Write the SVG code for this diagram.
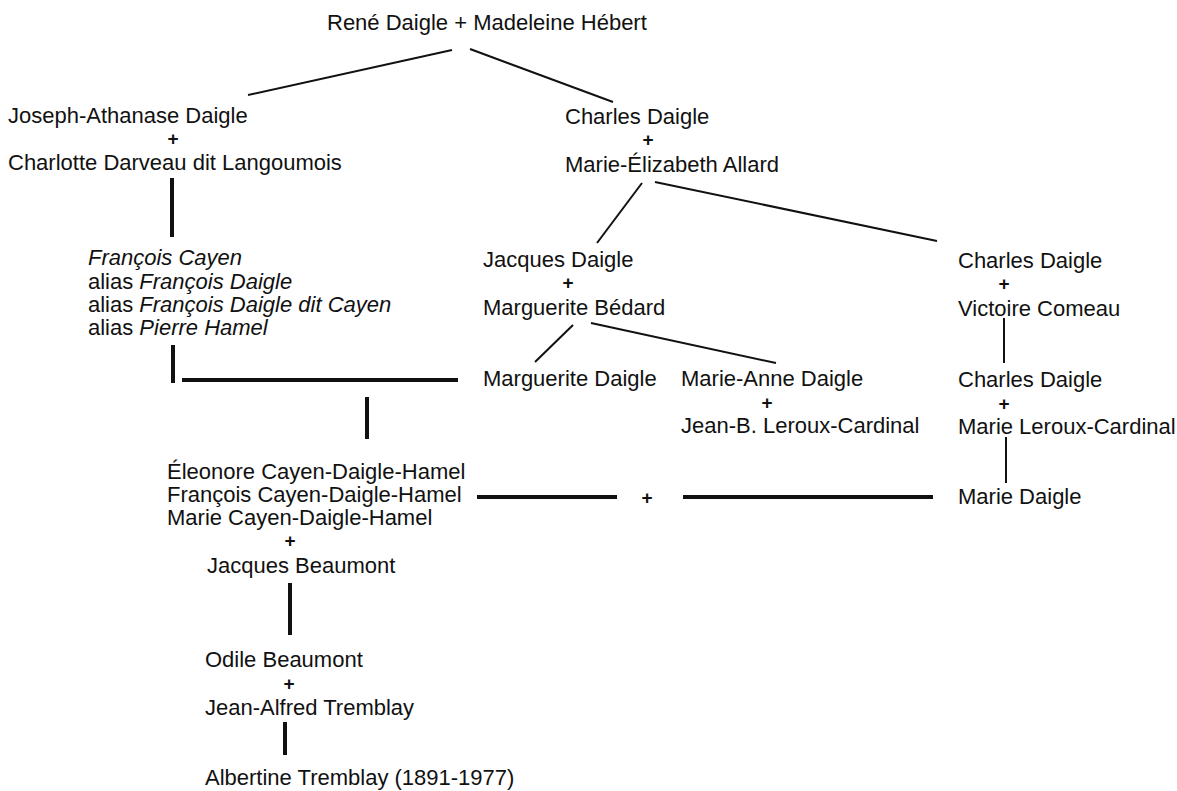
<svg xmlns="http://www.w3.org/2000/svg" width="1177" height="791" viewBox="0 0 1177 791">
<style>
text{font-family:"Liberation Sans",Arial,sans-serif;font-size:22px;fill:#111}
.m{text-anchor:middle}
.p{text-anchor:middle;font-size:19px;font-weight:bold}
.i{font-style:italic}
.thin{stroke:#111;stroke-width:2;fill:none}
.thick{stroke:#111;stroke-width:4;fill:none}
</style>
<rect width="1177" height="791" fill="#fff"/>
<g id="connectors">
<line class="thin" x1="452" y1="50" x2="248" y2="95"/>
<line class="thin" x1="470" y1="49" x2="613" y2="102"/>
<line class="thin" x1="642" y1="183" x2="597" y2="243"/>
<line class="thin" x1="655" y1="182" x2="937" y2="241"/>
<line class="thin" x1="573" y1="325" x2="535" y2="362"/>
<line class="thin" x1="591" y1="323" x2="776" y2="363"/>
<line class="thin" x1="1004" y1="318" x2="1004" y2="363"/>
<line class="thin" x1="1006" y1="437" x2="1006" y2="483"/>
<line class="thick" x1="172" y1="178" x2="172" y2="237"/>
<line class="thick" x1="173" y1="345" x2="173" y2="383"/>
<line class="thick" x1="182" y1="380" x2="458" y2="380"/>
<line class="thick" x1="367" y1="397" x2="367" y2="439"/>
<line class="thick" x1="477" y1="497" x2="617" y2="497"/>
<line class="thick" x1="683" y1="497" x2="933" y2="497"/>
<line class="thick" x1="290" y1="583" x2="290" y2="635"/>
<line class="thick" x1="285" y1="722" x2="285" y2="755"/>
</g>
<g id="n-rene"><text x="327" y="30">René Daigle + Madeleine Hébert</text></g>
<g id="n-joseph">
<text x="8" y="123">Joseph-Athanase Daigle</text>
<text class="p" x="173" y="145">+</text>
<text x="8" y="170">Charlotte Darveau dit Langoumois</text>
</g>
<g id="n-charles1">
<text x="565" y="124">Charles Daigle</text>
<text class="p" x="648" y="146">+</text>
<text x="565" y="172">Marie-Élizabeth Allard</text>
</g>
<g id="n-francois">
<text x="88" y="265" class="i">François Cayen</text>
<text x="88" y="289">alias <tspan class="i">François Daigle</tspan></text>
<text x="88" y="312">alias <tspan class="i">François Daigle dit Cayen</tspan></text>
<text x="88" y="335">alias <tspan class="i">Pierre Hamel</tspan></text>
</g>
<g id="n-jacques">
<text x="483" y="267">Jacques Daigle</text>
<text class="p" x="568" y="289">+</text>
<text x="483" y="315">Marguerite Bédard</text>
</g>
<g id="n-charles2">
<text x="958" y="268">Charles Daigle</text>
<text class="p" x="1004" y="290">+</text>
<text x="958" y="316">Victoire Comeau</text>
</g>
<g id="n-marguerite"><text x="483" y="386">Marguerite Daigle</text></g>
<g id="n-marieanne">
<text x="681" y="386">Marie-Anne Daigle</text>
<text class="p" x="767" y="409">+</text>
<text x="681" y="433">Jean-B. Leroux-Cardinal</text>
</g>
<g id="n-charles3">
<text x="958" y="387">Charles Daigle</text>
<text class="p" x="1004" y="410">+</text>
<text x="958" y="434">Marie Leroux-Cardinal</text>
</g>
<g id="n-eleonore">
<text x="167" y="479">Éleonore Cayen-Daigle-Hamel</text>
<text x="167" y="502">François Cayen-Daigle-Hamel</text>
<text x="167" y="525">Marie Cayen-Daigle-Hamel</text>
<text class="p" x="290" y="547">+</text>
<text x="207" y="573">Jacques Beaumont</text>
</g>
<g id="n-plus"><text class="p" x="647" y="504">+</text></g>
<g id="n-mariedaigle"><text x="958" y="504">Marie Daigle</text></g>
<g id="n-odile">
<text x="205" y="667">Odile Beaumont</text>
<text class="p" x="289" y="690">+</text>
<text x="205" y="715">Jean-Alfred Tremblay</text>
</g>
<g id="n-albertine"><text x="205" y="785">Albertine Tremblay (1891-1977)</text></g>
</svg>
